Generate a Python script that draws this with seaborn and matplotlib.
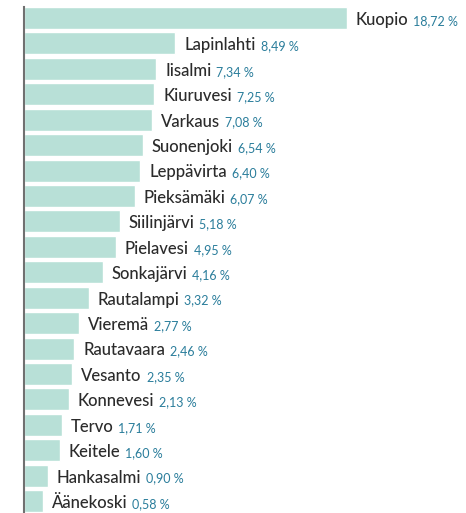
import numpy as np
import matplotlib
matplotlib.use("Agg")
import matplotlib.pyplot as plt
import seaborn as sns

# municipalities and shares (%)
kunnat = ["Kuopio", "Lapinlahti", "Iisalmi", "Kiuruvesi", "Varkaus", "Suonenjoki",
          "Leppävirta", "Pieksämäki", "Siilinjärvi", "Pielavesi", "Sonkajärvi",
          "Rautalampi", "Vieremä", "Rautavaara", "Vesanto", "Konnevesi", "Tervo",
          "Keitele", "Hankasalmi", "Äänekoski"]
osuus = [18.72, 8.49, 7.34, 7.25, 7.08, 6.54, 6.40, 6.07, 5.18, 4.95, 4.16,
         3.32, 2.77, 2.46, 2.35, 2.13, 1.71, 1.60, 0.90, 0.58]

BAR_PAD = 0.525   # bars have a small stub even for tiny values
BAR_COL = "#b8e0d7"
NAME_COL = "#2b2b2b"
VAL_COL = "#2a7d9b"

sns.set_style("white")
plt.rcParams["font.family"] = ["Lato", "DejaVu Sans"]

fig = plt.figure(figsize=(4.66, 5.13), dpi=100)
ax = fig.add_axes([24 / 466, 0, 1 - 24 / 466, 1])

lengths = np.array(osuus) + BAR_PAD
sns.barplot(x=lengths, y=kunnat, orient="h", color=BAR_COL, width=0.866,
            saturation=1, ax=ax)

ax.set_xlim(0, 26.34)
ax.set_ylim(19.47, -0.708)
ax.set_xticks([])
ax.set_yticks([])
ax.set_xlabel("")
ax.set_ylabel("")

sns.despine(ax=ax, left=False, bottom=True)
ax.spines["left"].set_color("#707070")
ax.spines["left"].set_linewidth(1.5)
ax.spines["left"].set_bounds(-0.433, 19.47)
ax.spines["left"].set_zorder(3)

names = []
for i, (name, v) in enumerate(zip(kunnat, lengths)):
    t = ax.annotate(name, xy=(v, i), xytext=(6.5, -5), textcoords="offset points",
                    va="baseline", ha="left", fontsize=12, color=NAME_COL,
                    fontweight="medium")
    names.append(t)

# value labels go right after the name, on the same baseline
fig.canvas.draw()
r = fig.canvas.get_renderer()
for i, (t, v) in enumerate(zip(names, lengths)):
    w_pt = t.get_window_extent(r).width * 72 / fig.dpi
    ax.annotate(f"{osuus[i]:.2f}".replace(".", ",") + " %", xy=(v, i),
                xytext=(6.5 + w_pt + 3.5, -5), textcoords="offset points",
                va="baseline", ha="left", fontsize=9, color=VAL_COL)

plt.savefig("out.png", dpi=100)
